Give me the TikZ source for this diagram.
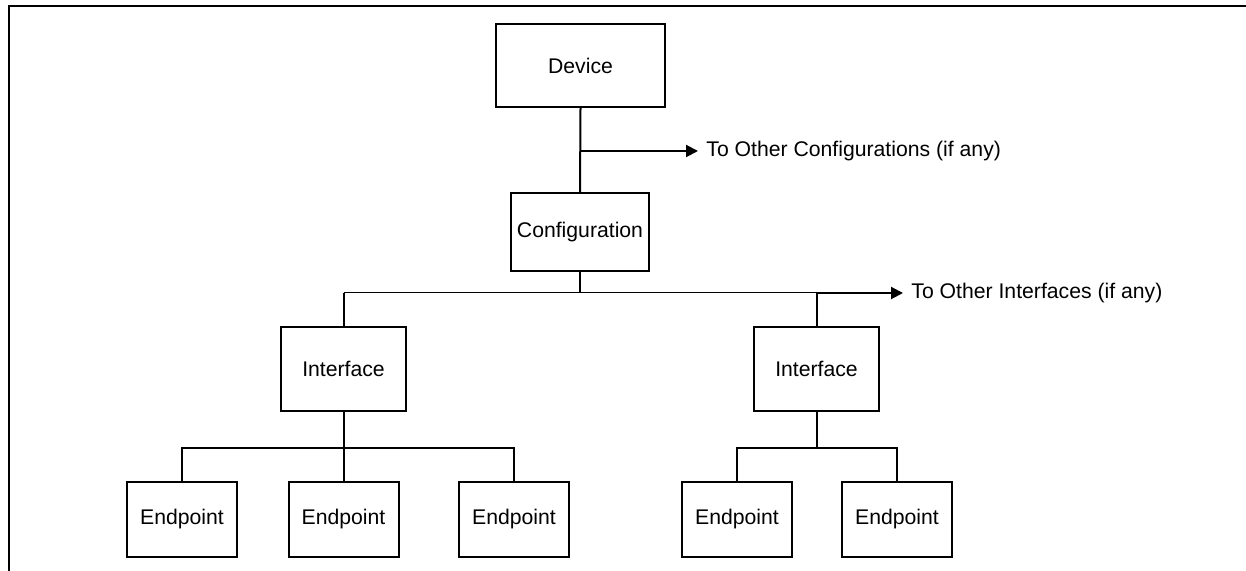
\documentclass[tikz,border=0pt]{standalone}
\usepackage{fontspec}
\setmainfont{Liberation Sans}
\usetikzlibrary{arrows.meta}
\begin{document}
\begin{tikzpicture}[x=0.5pt, y=-0.5pt,
	box/.style={shape=rectangle, draw, line width=1pt, inner sep=0pt, font=\fontsize{10.6}{12}\selectfont},
	link/.style={line width=1pt},
	bus/.style={line width=0.5pt},
	note/.style={anchor=west, inner sep=4pt, font=\fontsize{10.6}{12}\selectfont},
	tip/.style={-{Triangle[length=6pt, width=6pt]}}]
\useasboundingbox (0,0) rectangle (1246,571);
\draw[line width=1pt] (9,571) -- (9,6.5) -- (1246,6.5);
\node[box, minimum width=84.5pt, minimum height=41.5pt] (Dev) at (580.5, 65.5) {Device};
\node[box, minimum width=69pt, minimum height=39pt] (Cfg) at (580, 232) {Configuration};
\node[box, minimum width=62.5pt, minimum height=42pt] (If1) at (343.5, 369) {Interface};
\node[box, minimum width=62.5pt, minimum height=42pt] (If2) at (816.5, 369) {Interface};
\node[box, minimum width=55pt, minimum height=37.5pt] (Ep1) at (182, 519.5) {Endpoint};
\node[box, minimum width=55pt, minimum height=37.5pt] (Ep2) at (343.5, 519.5) {Endpoint};
\node[box, minimum width=55pt, minimum height=37.5pt] (Ep3) at (514, 519.5) {Endpoint};
\node[box, minimum width=55pt, minimum height=37.5pt] (Ep4) at (737, 519.5) {Endpoint};
\node[box, minimum width=55pt, minimum height=37.5pt] (Ep5) at (897, 519.5) {Endpoint};
\node[note] (CfgNote) at (698, 151) {To Other Configurations (if any)};
\node[note] (IfNote) at (903, 293) {To Other Interfaces (if any)};
\coordinate (CfgBr) at (580.5, 151);
\coordinate (IfBus) at (580, 293);
\coordinate (EpBus1) at (343.5, 447.5);
\coordinate (EpBus2) at (816.5, 447.5);
% device to configuration
\draw[link] (Dev.south) -- (Cfg.north);
\draw[link, tip] (CfgBr) -- (CfgNote.west);
% configuration to interfaces
\draw[link] (Cfg.south) -- (IfBus);
\draw[bus] (If1.north |- IfBus) -- (If2.north |- IfBus);
\draw[link] (If1.north |- IfBus) -- (If1.north);
\draw[link] (If2.north |- IfBus) -- (If2.north);
\draw[link, tip] (If2.north |- IfBus) -- (IfNote.west);
% interfaces to endpoints
\draw[link] (If1.south) -- (Ep2.north);
\draw[link] (Ep1.north) -- (Ep1.north |- EpBus1) -- (Ep3.north |- EpBus1) -- (Ep3.north);
\draw[link] (If2.south) -- (EpBus2);
\draw[link] (Ep4.north) -- (Ep4.north |- EpBus2) -- (Ep5.north |- EpBus2) -- (Ep5.north);
\end{tikzpicture}
\end{document}
